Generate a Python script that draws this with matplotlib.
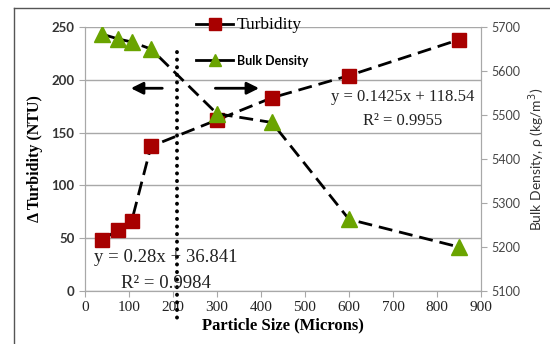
import matplotlib.pyplot as plt
from matplotlib.lines import Line2D

size = [38, 75, 106, 150, 300, 425, 600, 850]
turbidity = [48, 58, 66, 137, 162, 183, 204, 238]
density = [5684, 5673, 5666, 5650, 5503, 5483, 5263, 5200]

red = '#a80000'
green = '#6aa400'

fig = plt.figure(figsize=(5.5, 3.44), dpi=100)
ax = fig.add_axes([0.1545, 0.154, 0.72, 0.7675])
ax2 = ax.twinx()

ax.plot(size, turbidity, color='black', lw=2, dashes=(5, 2.5),
        marker='s', ms=10, mfc=red, mec=red, zorder=3)
ax2.plot(size, density, color='black', lw=2, dashes=(5, 2.5),
         marker='^', ms=11, mfc=green, mec=green, zorder=3)

ax.set_xlim(0, 900)
ax.set_ylim(0, 250)
ax2.set_ylim(5100, 5700)
ax.set_xticks(range(0, 901, 100))
ax.set_yticks(range(0, 251, 50))
ax2.set_yticks(range(5100, 5701, 100))

ax.grid(axis='y', color='#a8a8a8', lw=1)
ax.set_axisbelow(True)
for a in (ax, ax2):
    a.spines['top'].set_visible(False)
    for s in ('left', 'bottom', 'right'):
        a.spines[s].set_color('#a8a8a8')
ax.tick_params(axis='both', color='#a8a8a8', length=4)
ax2.tick_params(axis='y', color='#a8a8a8', length=4)

for t in ax.get_yticklabels():
    t.set_family('Lato')
    t.set_weight('bold')
    t.set_size(9.5)
    t.set_color('#333333')
for t in ax.get_xticklabels():
    t.set_family('Liberation Serif')
    t.set_size(11)
    t.set_color('#222222')
for t in ax2.get_yticklabels():
    t.set_family('Lato')
    t.set_size(9)
    t.set_color('#444444')

ax.set_xlabel('Particle Size (Microns)', family='Liberation Serif',
              weight='bold', size=12, labelpad=2)
ax.set_ylabel('Δ Turbidity (NTU)', family='Liberation Serif',
              weight='bold', size=11.5, labelpad=6)
ax2.set_ylabel('Bulk Density, ρ (kg/m$^3$)', family='Lato', size=10,
               color='#333333', labelpad=4)

# critical size divider and arrows
ax.plot([210, 210], [226, -27], color='black', lw=2.8,
        linestyle=(0, (0.05, 1.9)), dash_capstyle='round',
        solid_capstyle='round', clip_on=False, zorder=4)
ax.annotate('', xy=(98, 192), xytext=(182, 192),
            arrowprops=dict(arrowstyle='-|>', color='black', lw=2,
                            mutation_scale=18))
ax.annotate('', xy=(402, 192), xytext=(290, 192),
            arrowprops=dict(arrowstyle='-|>', color='black', lw=2,
                            mutation_scale=18))

# trendline equations
eq = dict(family='Liberation Serif', size=12, ha='center', va='center',
          color='#222222', zorder=5)
ax.text(723, 184, 'y = 0.1425x + 118.54', **eq)
ax.text(723, 161, 'R² = 0.9955', **eq)
eq['size'] = 13.5
ax.text(184, 32, 'y = 0.28x + 36.841', **eq)
ax.text(184, 7, 'R² = 0.9984', **eq)

h1 = Line2D([], [], color='black', lw=2, marker='s', ms=9, mfc=red, mec=red)
h2 = Line2D([], [], color='black', lw=2, marker='^', ms=9, mfc=green,
            mec=green)
leg = ax2.legend(handles=[h1, h2], labels=['Turbidity', 'Bulk Density'],
                 loc='upper left', bbox_to_anchor=(0.25, 1.085),
                 frameon=False, labelspacing=1.6, handlelength=2.6,
                 handletextpad=0.3)
leg.get_texts()[0].set_family('Liberation Serif')
leg.get_texts()[0].set_size(12.5)
leg.get_texts()[1].set_family('Lato')
leg.get_texts()[1].set_weight('bold')
leg.get_texts()[1].set_size(9)

# outer frame
fig.add_artist(Line2D([0.0255, 0.0255], [0, 0.977], color='#555555', lw=1))
fig.add_artist(Line2D([0.0255, 1], [0.977, 0.977], color='#555555', lw=1))

fig.savefig('out.png', dpi=100)
